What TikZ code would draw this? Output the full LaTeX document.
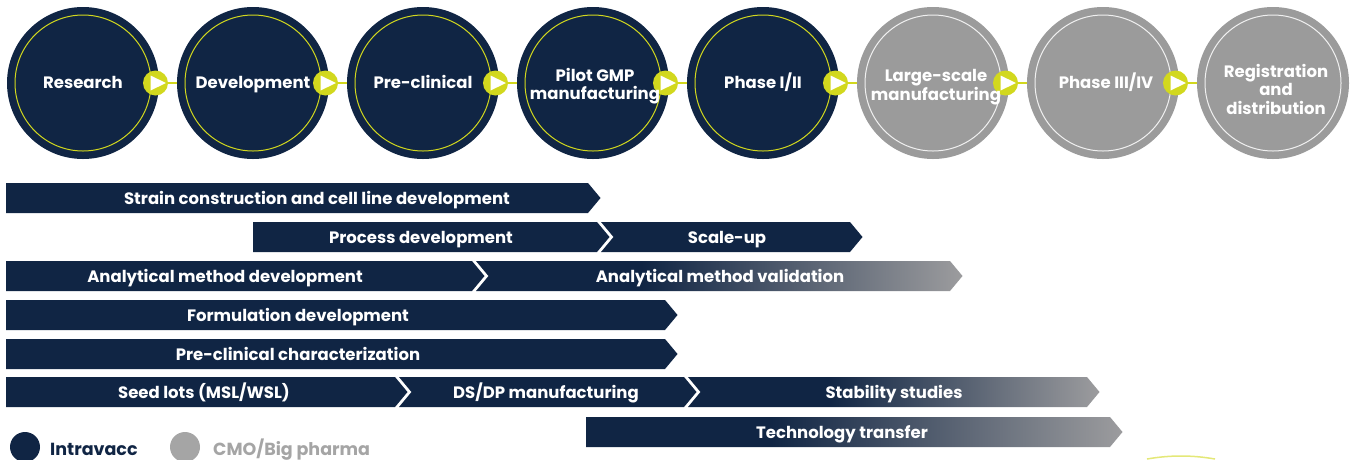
\documentclass[tikz,border=0pt]{standalone}
\usepackage{fontspec}
\setmainfont{Poppins}
\usetikzlibrary{calc}
\definecolor{navy}{RGB}{16,37,68}
\definecolor{ygreen}{RGB}{210,216,30}
\definecolor{cgray}{RGB}{155,155,155}
\definecolor{fgray}{RGB}{156,156,158}
\definecolor{lgray}{RGB}{165,165,165}
\pgfdeclarehorizontalshading{fadebar}{100bp}{color(0bp)=(navy); color(25bp)=(navy); color(42bp)=(navy); color(75bp)=(fgray); color(100bp)=(fgray)}
\newcommand\chev[6]{% name, xl, xr, ytop, notch, style
  \path[#6] (#2,#4) -- (#3,#4) -- ($(#3,#4)+(12.5,15)$) -- (#3,#4+30) -- (#2,#4+30) -- ($(#2,#4)+(#5,15)$) -- cycle;
}
\tikzset{
  stage/.style={circle, minimum size=152pt, inner sep=0pt},
  darkstage/.style={stage, fill=navy},
  graystage/.style={stage, fill=cgray},
  stagelabel/.style={text=white, font=\bfseries\fontsize{16.5}{18.5}\selectfont, align=center},
  onelabel/.style={stagelabel, anchor=base, inner sep=0pt},
  barlabel/.style={text=white, font=\bfseries\fontsize{16.5}{18}\selectfont, inner sep=0pt, anchor=base},
  navybar/.style={fill=navy},
  fadebar/.style={shading=fadebar},
  playbtn/.style={circle, fill=ygreen, minimum size=25pt, inner sep=0pt},
  legendlabel/.style={anchor=base west, inner sep=0pt, font=\bfseries\fontsize{17.5}{20}\selectfont},
}
\begin{document}
\begin{tikzpicture}[x=1pt,y=-1pt]
\useasboundingbox (0,0) rectangle (1362,459);
% stages
\foreach \i/\sty in {1/darkstage, 2/darkstage, 3/darkstage, 4/darkstage, 5/darkstage, 6/graystage, 7/graystage, 8/graystage}{
  \node[\sty] (c\i) at ({83+170*(\i-1)},83) {};
}
% inner rings
\foreach \i in {1,...,5}{ \draw[ygreen, line width=1pt] (c\i) circle (68pt); }
\foreach \i in {6,7,8}{ \draw[white!85!cgray, line width=1pt] (c\i) circle (68pt); }
% connectors and play buttons
\foreach \i [evaluate=\i as \j using int(\i+1)] in {1,...,7}{
  \coordinate (p\i) at ($(c\i.center)+(72.5,0)$);
  \draw[ygreen, line width=2pt] (p\i) -- (c\j.west);
  \node[playbtn] (b\i) at (p\i) {};
  \fill[white] ($(p\i)+(-5,-7.5)$) -- ($(p\i)+(10.5,0)$) -- ($(p\i)+(-5,7.5)$) -- cycle;
}
% stage labels
\node[onelabel] (t1) at (83,88) {Research};
\node[onelabel] (t2) at (253,88) {Development};
\node[onelabel] (t3) at (423,88) {Pre-clinical};
\node[stagelabel] (t4) at (595,86) {Pilot GMP\\manufacturing};
\node[onelabel] (t5) at (763,88) {Phase I/II};
\node[stagelabel] (t6) at (936,87) {Large-scale\\manufacturing};
\node[onelabel] (t7) at (1106,88) {Phase III/IV};
\node[stagelabel] (t8) at (1276,89) {Registration\\and\\distribution};
% bars
\chev{r1}{6}{588}{183}{0}{navybar}
\node[barlabel] (l1) at (317,204.5) {Strain construction and cell line development};
\chev{r2a}{253}{597}{222}{0}{navybar}
\node[barlabel] (l2a) at (421,243.5) {Process development};
\chev{r2b}{601}{850}{222}{12.5}{navybar}
\node[barlabel] (l2b) at (727,243.5) {Scale-up};
\chev{r3a}{6}{472}{261}{0}{navybar}
\node[barlabel] (l3a) at (225,282.5) {Analytical method development};
\chev{r3b}{476}{950}{261}{12.5}{fadebar}
\node[barlabel] (l3b) at (720,282.5) {Analytical method validation};
\chev{r4}{6}{665}{300}{0}{navybar}
\node[barlabel] (l4) at (298,321.5) {Formulation development};
\chev{r5}{6}{665}{339}{0}{navybar}
\node[barlabel] (l5) at (298,360.5) {Pre-clinical characterization};
\chev{r6a}{6}{395}{377}{0}{navybar}
\node[barlabel] (l6a) at (204,398.5) {Seed lots (MSL/WSL)};
\chev{r6b}{399}{684}{377}{12.5}{navybar}
\node[barlabel] (l6b) at (546,398.5) {DS/DP manufacturing};
\chev{r6c}{688}{1087}{377}{12.5}{fadebar}
\node[barlabel] (l6c) at (894,398.5) {Stability studies};
\chev{r7}{586}{1110}{417}{0}{fadebar}
\node[barlabel] (l7) at (842,438.5) {Technology transfer};
% legend
\fill[navy] (25,447) circle (15pt);
\node[legendlabel, text=navy] (lg1) at (50,455) {Intravacc};
\fill[lgray] (185,447) circle (15pt);
\node[legendlabel, text=lgray] (lg2) at (213,455) {CMO/Big pharma};
% faint arc at bottom right
\draw[ygreen!60, line width=1.5pt] (1147,459) .. controls (1170,455) and (1192,455) .. (1215,459);
\end{tikzpicture}
\end{document}
